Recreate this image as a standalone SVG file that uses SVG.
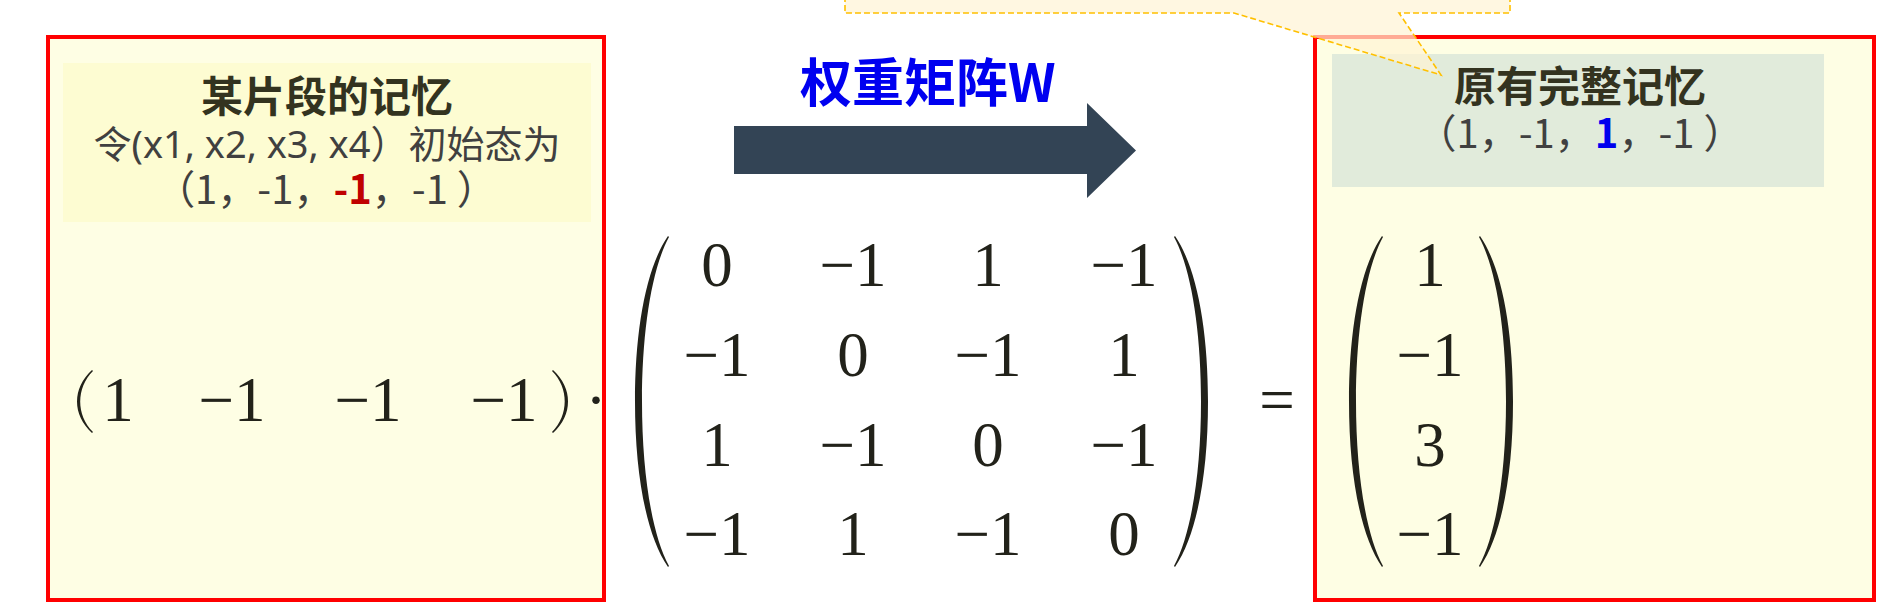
<svg xmlns="http://www.w3.org/2000/svg" xmlns:xlink="http://www.w3.org/1999/xlink" width="1883" height="614" viewBox="0 0 1883 614">
<style>
.box{fill:#FEFEE4;stroke:#FF0000;stroke-width:4}
.cjk{font-family:"Noto Sans CJK SC","Noto Sans",sans-serif}
.lat{font-family:"Noto Sans","Noto Sans CJK SC",sans-serif}
.title{font-size:42px;font-weight:bold;fill:#33331F}
.sub{font-size:38px;fill:#404040}
.vec{font-size:40px;fill:#404040}
.math{font-family:"Liberation Serif","DejaVu Serif",serif;font-size:63px;fill:#22221A;text-anchor:middle}
.par{fill:#22221A}
</style>
<defs>
<path id="paren" d="M33,1 C11,33 0,95 0,166.5 C0,238 11,300 33,332 L34,331 C17,300 7,238 7,166.5 C7,95 17,33 34,2 Z"/>
<path id="sparen" d="M16,0 C-4,18 -4,45 16,63 L17,62 C0,45 0,18 17,1 Z"/>
</defs>
<rect width="1883" height="614" fill="#FFFFFF"/>

<g id="node-fragment">
<rect class="box" x="48" y="37" width="556" height="563"/>
<rect x="63" y="63" width="528" height="159" fill="#FDFCD2"/>
<text class="cjk title" x="327" y="112" text-anchor="middle">某片段的记忆</text>
<text class="lat sub" x="327" y="158" text-anchor="middle">令(x1, x2, x3, x4）初始态为</text>
<text class="cjk vec" x="326" y="204" text-anchor="middle">（1，-1，<tspan fill="#C00000" font-weight="bold">-1</tspan>，-1 ）</text>
<use xlink:href="#sparen" href="#sparen" class="par" transform="translate(76,370)"/>
<text class="math" x="118" y="421">1</text>
<text class="math" x="232" y="421">−1</text>
<text class="math" x="368" y="421">−1</text>
<text class="math" x="504" y="421">−1</text>
<use xlink:href="#sparen" href="#sparen" class="par" transform="translate(569,370) scale(-1,1)"/>
<text class="math" x="596" y="421">·</text>
</g>

<g id="node-matrix">
<use xlink:href="#paren" href="#paren" class="par" transform="translate(635,235)"/>
<use xlink:href="#paren" href="#paren" class="par" transform="translate(1208,235) scale(-1,1)"/>
<text class="math" x="717" y="286">0</text>
<text class="math" x="853" y="286">−1</text>
<text class="math" x="988" y="286">1</text>
<text class="math" x="1124" y="286">−1</text>
<text class="math" x="717" y="376">−1</text>
<text class="math" x="853" y="376">0</text>
<text class="math" x="988" y="376">−1</text>
<text class="math" x="1124" y="376">1</text>
<text class="math" x="717" y="466">1</text>
<text class="math" x="853" y="466">−1</text>
<text class="math" x="988" y="466">0</text>
<text class="math" x="1124" y="466">−1</text>
<text class="math" x="717" y="555">−1</text>
<text class="math" x="853" y="555">1</text>
<text class="math" x="988" y="555">−1</text>
<text class="math" x="1124" y="555">0</text>
<text class="math" x="1277" y="421">=</text>
</g>

<g id="node-memory">
<rect class="box" x="1315" y="37" width="559" height="563"/>
<rect x="1332" y="54" width="492" height="133" fill="#E1EBDB"/>
<text class="cjk title" x="1580" y="102" text-anchor="middle">原有完整记忆</text>
<text class="cjk vec" x="1580" y="148" text-anchor="middle">（1，-1，<tspan fill="#0000EE" font-weight="bold">1</tspan>，-1 ）</text>
<use xlink:href="#paren" href="#paren" class="par" transform="translate(1349,235)"/>
<use xlink:href="#paren" href="#paren" class="par" transform="translate(1513,235) scale(-1,1)"/>
<text class="math" x="1430" y="286">1</text>
<text class="math" x="1430" y="376">−1</text>
<text class="math" x="1430" y="466">3</text>
<text class="math" x="1430" y="555">−1</text>
</g>

<g id="callout">
<path d="M845,-5 L1510,-5 L1510,13 L1399,13 L1441,75 L1234,13 L845,13 Z" fill="#FFF4D4" fill-opacity="0.7" stroke="#FFC000" stroke-width="1.6" stroke-dasharray="6,3"/>
</g>

<g id="connectors">
<polygon points="734,126 1087,126 1087,103 1136,150.5 1087,198 1087,174 734,174" fill="#334455"/>
<text class="cjk" x="800" y="102" font-size="52" font-weight="bold" fill="#0000F0">权重矩阵W</text>
</g>
</svg>
